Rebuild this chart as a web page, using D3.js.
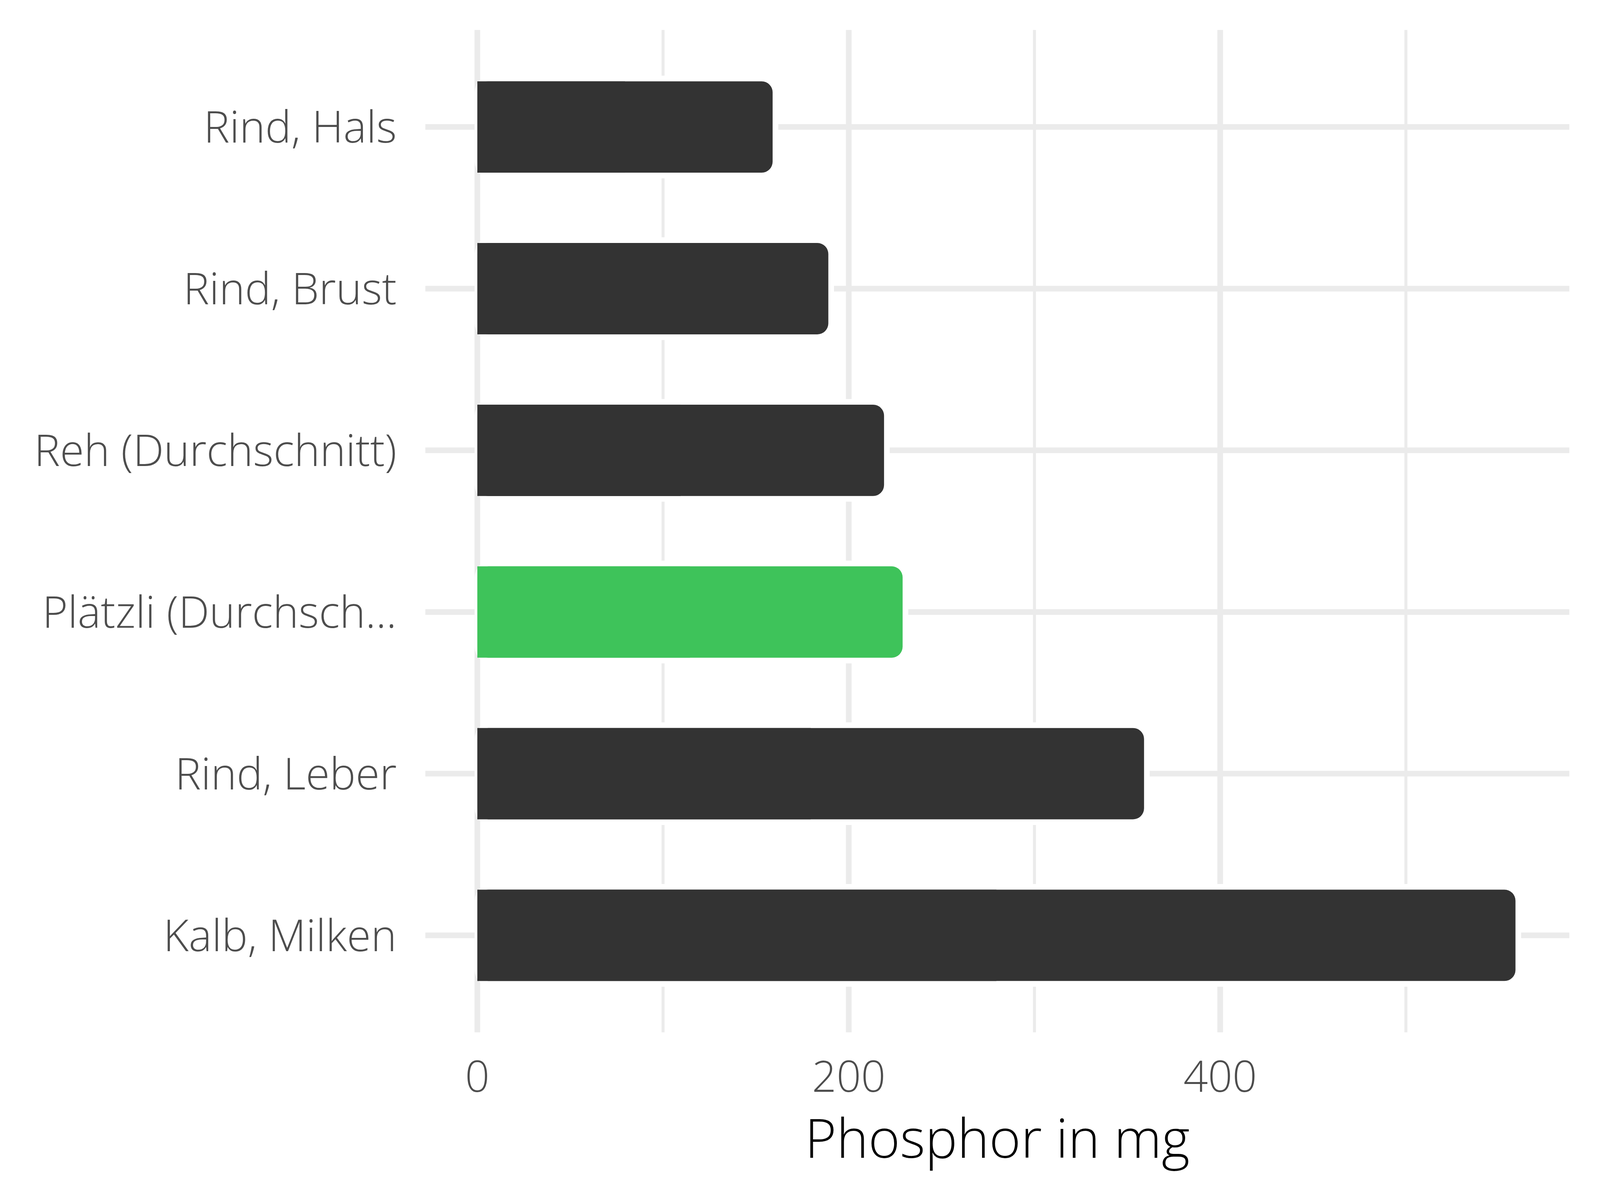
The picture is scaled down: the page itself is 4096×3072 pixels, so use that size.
<!DOCTYPE html>
<html>
<head>
<meta charset="utf-8">
<script src="https://cdn.jsdelivr.net/npm/d3@7"></script>
<style>
  html, body { margin: 0; padding: 0; background: #ffffff; }
  svg { display: block; }
</style>
</head>
<body>
<svg id="chart" width="4096" height="3072"></svg>
<script>
// ---- data ----
const categories = ["Rind, Hals", "Rind, Brust", "Reh (Durchschnitt)", "Plätzli (Durchsch...", "Rind, Leber", "Kalb, Milken"];
const values = [159, 189, 219, 229, 359, 559];
const highlight = [false, false, false, true, false, false];
const majorTicks = [0, 200, 400];
const minorTicks = [100, 300, 500];
const tickLabels = ["0", "200", "400"];
const axisTitle = "Phosphor in mg";

// ---- layout (reference 4800x3600, scaled) ----
const s = 4096 / 4800;
const svg = d3.select("#chart");
const g = svg.append("g").attr("transform", `scale(${s})`);

const panel = { left: 1276, right: 4708, top: 90, bottom: 3097 };
const x = d3.scaleLinear().domain([-28, 588]).range([panel.left, panel.right]);
const y = d3.scalePoint().domain(categories).range([panel.top, panel.bottom]).padding(0.6);
const step = y.step();
const barH = step * 0.565;

const grid = "#EBEBEB";
const font = "'Open Sans', 'Segoe UI', sans-serif";
const weight = 300;

// minor vertical gridlines
g.selectAll("line.minor").data(minorTicks).enter().append("line")
  .attr("x1", d => x(d)).attr("x2", d => x(d))
  .attr("y1", panel.top).attr("y2", panel.bottom)
  .attr("stroke", grid).attr("stroke-width", 9);
// major vertical gridlines
g.selectAll("line.major").data(majorTicks).enter().append("line")
  .attr("x1", d => x(d)).attr("x2", d => x(d))
  .attr("y1", panel.top).attr("y2", panel.bottom)
  .attr("stroke", grid).attr("stroke-width", 17);
// horizontal gridlines
g.selectAll("line.hgrid").data(categories).enter().append("line")
  .attr("x1", panel.left).attr("x2", panel.right)
  .attr("y1", d => y(d)).attr("y2", d => y(d))
  .attr("stroke", grid).attr("stroke-width", 17);

const r = 33, halo = 17;
const bars = g.selectAll("g.bar").data(categories).enter().append("g");
// white halo
bars.append("rect")
  .attr("x", x(0) - 8)
  .attr("y", d => y(d) - barH / 2 - halo)
  .attr("width", (d, i) => x(values[i]) - x(0) + 8 + halo)
  .attr("height", barH + 2 * halo)
  .attr("rx", r + halo).attr("ry", r + halo)
  .attr("fill", "#ffffff");
// rounded bar
bars.append("rect")
  .attr("x", x(0))
  .attr("y", d => y(d) - barH / 2)
  .attr("width", (d, i) => x(values[i]) - x(0))
  .attr("height", barH)
  .attr("rx", r).attr("ry", r)
  .attr("fill", (d, i) => highlight[i] ? "#3EC35A" : "#333333");
// square left half
bars.append("rect")
  .attr("x", x(0))
  .attr("y", d => y(d) - barH / 2)
  .attr("width", (d, i) => (x(values[i]) - x(0)) / 2)
  .attr("height", barH)
  .attr("fill", (d, i) => highlight[i] ? "#3EC35A" : "#333333");

// y axis labels
g.selectAll("text.ylab").data(categories).enter().append("text")
  .attr("x", 1190)
  .attr("y", d => y(d))
  .attr("dy", "0.36em")
  .attr("text-anchor", "end")
  .attr("font-family", font)
  .attr("font-weight", weight)
  .attr("font-size", 131)
  .attr("fill", "#4D4D4D")
  .text(d => d);

// x axis tick labels
g.selectAll("text.xlab").data(majorTicks).enter().append("text")
  .attr("x", d => x(d))
  .attr("y", 3275)
  .attr("text-anchor", "middle")
  .attr("font-family", font)
  .attr("font-weight", weight)
  .attr("font-size", 129)
  .attr("fill", "#4D4D4D")
  .text((d, i) => tickLabels[i]);

// axis title
g.append("text")
  .attr("x", (panel.left + panel.right) / 2)
  .attr("y", 3473)
  .attr("text-anchor", "middle")
  .attr("font-family", font)
  .attr("font-weight", weight)
  .attr("font-size", 162)
  .attr("fill", "#000000")
  .text(axisTitle);
</script>
</body>
</html>
